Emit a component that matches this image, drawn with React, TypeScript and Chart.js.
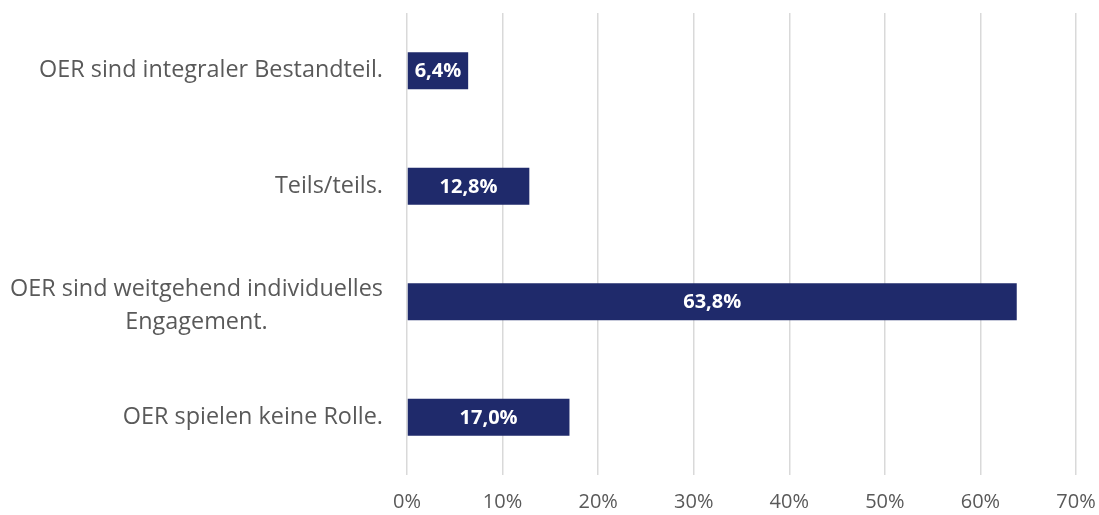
import React, { useEffect, useRef } from "react";
import { Chart, registerables } from "chart.js";

Chart.register(...registerables);

const categories: string[][] = [
  ["OER sind integraler Bestandteil."],
  ["Teils/teils."],
  ["OER sind weitgehend individuelles", "Engagement."],
  ["OER spielen keine Rolle."],
];
const values: number[] = [6.4, 12.8, 63.8, 17.0];
const xMin = 0;
const xMax = 70;
const xStep = 10;

const FONT = "'Open Sans', 'DejaVu Sans', sans-serif";
const TEXT_COLOR = "#595959";
const BAR_COLOR = "#1F2A6B";

const fmt = (v: number) => v.toFixed(1).replace(".", ",") + "%";

const categoryLabelPlugin = {
  id: "categoryLabels",
  afterDraw(chart: any) {
    const ctx = chart.ctx as CanvasRenderingContext2D;
    const yScale = chart.scales.y;
    const right = chart.chartArea.left - 24;
    const lh = 33;
    ctx.save();
    ctx.font = `23.4px ${FONT}`;
    ctx.fillStyle = TEXT_COLOR;
    ctx.textAlign = "center";
    ctx.textBaseline = "middle";
    categories.forEach((lines, i) => {
      const y = yScale.getPixelForValue(i);
      const maxW = Math.max(...lines.map((l) => ctx.measureText(l).width));
      const cx = right - maxW / 2;
      const startY = y - ((lines.length - 1) * lh) / 2 + (lines.length > 1 ? 4 : 0);
      lines.forEach((l, j) => ctx.fillText(l, cx, startY + j * lh));
    });
    ctx.restore();
  },
};

const barValuePlugin = {
  id: "barValues",
  afterDatasetsDraw(chart: any) {
    const ctx = chart.ctx as CanvasRenderingContext2D;
    const meta = chart.getDatasetMeta(0);
    ctx.save();
    ctx.font = `bold 20px ${FONT}`;
    ctx.fillStyle = "#FFFFFF";
    ctx.textAlign = "center";
    ctx.textBaseline = "middle";
    meta.data.forEach((bar: any, i: number) => {
      const p = bar.getProps(["x", "y", "base", "height"], true);
      ctx.save();
      ctx.beginPath();
      ctx.rect(p.base, p.y - p.height / 2, p.x - p.base, p.height);
      ctx.clip();
      ctx.fillText(fmt(values[i]), (p.base + p.x) / 2, p.y + 1);
      ctx.restore();
    });
    ctx.restore();
  },
};

export default function App() {
  const canvasRef = useRef<HTMLCanvasElement | null>(null);

  useEffect(() => {
    document.body.style.margin = "0";
    const canvas = canvasRef.current;
    if (!canvas) return;
    const chart = new Chart(canvas, {
      type: "bar",
      data: {
        labels: categories.map((c) => c.join(" ")),
        datasets: [
          {
            data: values,
            backgroundColor: BAR_COLOR,
            borderWidth: 0,
            barPercentage: 0.64,
            categoryPercentage: 0.5,
          },
        ],
      },
      options: {
        indexAxis: "y",
        animation: false,
        responsive: true,
        maintainAspectRatio: false,
        layout: { padding: { left: 407, right: 23, top: 13, bottom: 0 } },
        plugins: {
          legend: { display: false },
          tooltip: { enabled: false },
        },
        scales: {
          x: {
            min: xMin,
            max: xMax,
            ticks: {
              stepSize: xStep,
              padding: 15,
              color: TEXT_COLOR,
              font: { family: FONT, size: 20 },
              callback: (v: any) => `${v}%`,
            },
            grid: { color: "#D9D9D9", lineWidth: 1.5, drawTicks: false },
            border: { display: false },
            afterFit: (scale: any) => {
              scale.height = 40;
              scale.paddingLeft = 0;
              scale.paddingRight = 0;
            },
          },
          y: {
            display: false,
          },
        },
      },
      plugins: [categoryLabelPlugin, barValuePlugin],
    });
    return () => chart.destroy();
  }, []);

  return (
    <div style={{ width: 1099, height: 515, position: "relative" }}>
      <canvas ref={canvasRef} />
    </div>
  );
}
